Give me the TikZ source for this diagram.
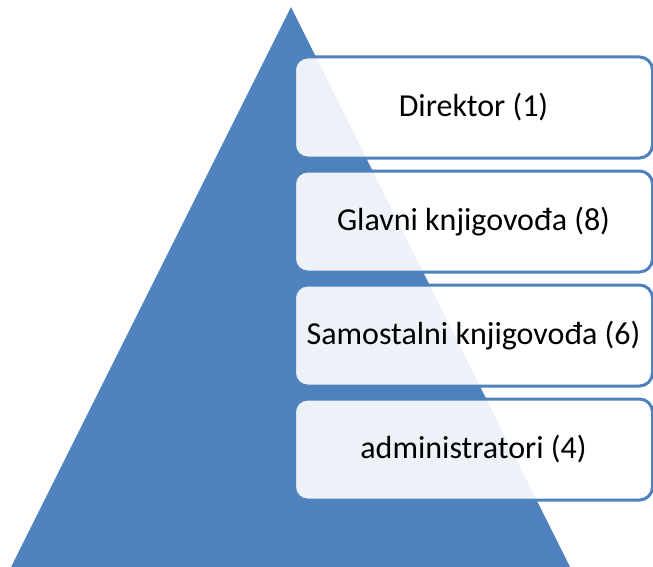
\documentclass[tikz,border=0pt]{standalone}
\usepackage{fontspec}
\setmainfont{Carlito}
\definecolor{accent}{HTML}{4F81BD}
\begin{document}
\begin{tikzpicture}[x=1pt,y=-1pt,
  box/.style={draw=accent, line width=3pt, fill=white, fill opacity=0.9, text opacity=1,
    rounded corners=13pt, minimum width=358pt, minimum height=101pt, inner sep=0pt,
    font=\fontsize{32}{38}\selectfont}]
\useasboundingbox (0,0) rectangle (653,567);
\fill[accent] (11,567) -- (291,7) -- (570,567) -- cycle;
\node[box] (b1) at (473.5,107.5) {Direktor (1)};
\node[box] (b2) at (473.5,221.5) {Glavni knjigovođa (8)};
\node[box] (b3) at (473.5,335.5) {Samostalni knjigovođa (6)};
\node[box] (b4) at (473.5,449.5) {administratori (4)};
\end{tikzpicture}
\end{document}
